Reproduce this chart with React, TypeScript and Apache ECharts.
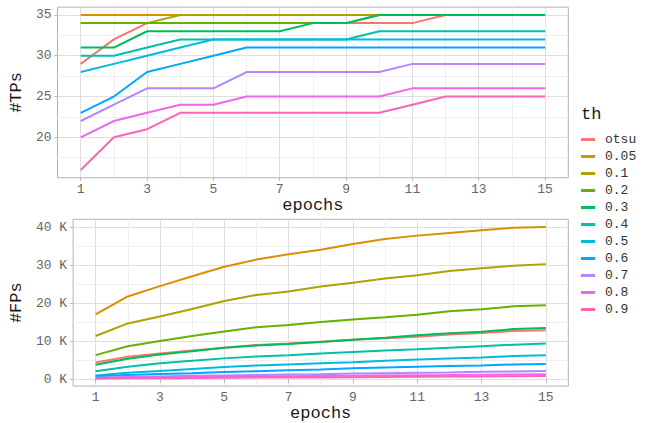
import React, { useEffect, useRef } from 'react';
import * as echarts from 'echarts';

const epochs = [1, 2, 3, 4, 5, 6, 7, 8, 9, 10, 11, 12, 13, 14, 15];
const thresholds = ['otsu', '0.05', '0.1', '0.2', '0.3', '0.4', '0.5', '0.6', '0.7', '0.8', '0.9'];
const palette = ['#F8766D', '#DB8E00', '#AEA200', '#64B200', '#00BD5C', '#00C1A7', '#00BADE', '#00A6FF', '#B385FF', '#EF67EB', '#FF63B6'];

// True positives per epoch
const tpOtsu = [29, 32, 34, 34, 34, 34, 34, 34, 34, 34, 34, 35, 35, 35, 35];
const tp005 = [35, 35, 35, 35, 35, 35, 35, 35, 35, 35, 35, 35, 35, 35, 35];
const tp01 = [34, 34, 34, 35, 35, 35, 35, 35, 35, 35, 35, 35, 35, 35, 35];
const tp02 = [34, 34, 34, 34, 34, 34, 34, 34, 34, 35, 35, 35, 35, 35, 35];
const tp03 = [31, 31, 33, 33, 33, 33, 33, 34, 34, 35, 35, 35, 35, 35, 35];
const tp04 = [30, 30, 31, 32, 32, 32, 32, 32, 32, 33, 33, 33, 33, 33, 33];
const tp05 = [28, 29, 30, 31, 32, 32, 32, 32, 32, 32, 32, 32, 32, 32, 32];
const tp06 = [23, 25, 28, 29, 30, 31, 31, 31, 31, 31, 31, 31, 31, 31, 31];
const tp07 = [22, 24, 26, 26, 26, 28, 28, 28, 28, 28, 29, 29, 29, 29, 29];
const tp08 = [20, 22, 23, 24, 24, 25, 25, 25, 25, 25, 26, 26, 26, 26, 26];
const tp09 = [16, 20, 21, 23, 23, 23, 23, 23, 23, 23, 24, 25, 25, 25, 25];

// False positives per epoch
const fpOtsu = [4400, 5900, 6800, 7600, 8300, 9000, 9400, 9900, 10400, 10800, 11200, 11800, 12200, 12700, 12900];
const fp005 = [17100, 21800, 24500, 27100, 29600, 31500, 32900, 34100, 35600, 36900, 37800, 38500, 39200, 39900, 40100];
const fp01 = [11400, 14700, 16500, 18500, 20600, 22200, 23100, 24400, 25400, 26500, 27400, 28500, 29200, 29900, 30300];
const fp02 = [6350, 8700, 10100, 11400, 12600, 13700, 14300, 15100, 15700, 16300, 17000, 17900, 18400, 19200, 19500];
const fp03 = [3800, 5400, 6500, 7400, 8300, 8900, 9300, 9800, 10400, 10900, 11600, 12100, 12500, 13200, 13500];
const fp04 = [2100, 3300, 4200, 4900, 5500, 6000, 6350, 6800, 7200, 7600, 7900, 8300, 8700, 9100, 9400];
const fp05 = [1000, 1700, 2200, 2700, 3200, 3600, 3900, 4200, 4500, 4900, 5200, 5500, 5750, 6100, 6300];
const fp06 = [800, 1100, 1400, 1600, 1900, 2100, 2400, 2600, 2900, 3100, 3300, 3500, 3600, 3900, 4000];
const fp07 = [400, 600, 750, 900, 1000, 1100, 1250, 1350, 1500, 1600, 1700, 1800, 1950, 2050, 2200];
const fp08 = [300, 400, 500, 600, 650, 700, 800, 850, 900, 1000, 1050, 1100, 1200, 1250, 1350];
const fp09 = [200, 250, 300, 350, 400, 450, 500, 500, 550, 600, 650, 700, 750, 800, 850];

const tpSeries = [tpOtsu, tp005, tp01, tp02, tp03, tp04, tp05, tp06, tp07, tp08, tp09];
const fpSeries = [fpOtsu, fp005, fp01, fp02, fp03, fp04, fp05, fp06, fp07, fp08, fp09];

const xBreaks = [1, 3, 5, 7, 9, 11, 13, 15];
const xMinorBreaks = [2, 4, 6, 8, 10, 12, 14];
const tpBreaks = [20, 25, 30, 35];
const tpMinorBreaks = [17.5, 22.5, 27.5, 32.5];
const fpBreaks = [0, 10000, 20000, 30000, 40000];
const fpMinorBreaks = [5000, 15000, 25000, 35000];

const FONT = "'Liberation Mono', 'DejaVu Sans Mono', monospace";

function expandRange(vals: number[]) {
  const lo = Math.min(...vals);
  const hi = Math.max(...vals);
  const pad = (hi - lo) * 0.05;
  return { min: lo - pad, max: hi + pad };
}

export default function App() {
  const ref = useRef<HTMLDivElement>(null);
  useEffect(() => {
    if (!ref.current) return;
    const chart = echarts.init(ref.current, null, { renderer: 'svg' });
    const xr = expandRange(epochs);
    const tpr = expandRange(tpSeries.flat());
    const fpr = expandRange(fpSeries.flat());

    const majorLine = { show: true, lineStyle: { color: '#DEDEDE', width: 1 } };
    const minorLine = { show: true, lineStyle: { color: '#EFEFEF', width: 1 } };
    const tickStyle = { show: true, length: 3, lineStyle: { color: '#B3B3B3', width: 1 } };
    const labelStyle = { color: '#666666', fontSize: 13, fontFamily: FONT };
    const nameStyle = { color: '#1A1A1A', fontSize: 17, fontFamily: FONT };

    const majorX = (grid: number) => ({
      type: 'value', gridIndex: grid, min: xr.min, max: xr.max, position: 'bottom',
      name: 'epochs', nameLocation: 'middle', nameGap: 15, nameTextStyle: nameStyle,
      axisLine: { show: false },
      axisTick: { ...tickStyle, customValues: xBreaks },
      axisLabel: { ...labelStyle, margin: 5, customValues: xBreaks },
      splitLine: majorLine,
    });
    const minorX = (grid: number) => ({
      type: 'value', gridIndex: grid, min: xr.min, max: xr.max, position: 'bottom',
      axisLine: { show: false },
      axisTick: { show: false, customValues: xMinorBreaks },
      axisLabel: { show: false, customValues: xMinorBreaks },
      splitLine: minorLine,
    });

    const option: any = {
      animation: false,
      backgroundColor: '#FFFFFF',
      textStyle: { fontFamily: FONT },
      title: {
        text: 'th', left: 581, top: 106, padding: 0,
        textStyle: { fontSize: 17, fontWeight: 'normal', color: '#1A1A1A', fontFamily: FONT },
      },
      legend: {
        orient: 'vertical', left: 581, top: 131, padding: 0, itemGap: 0,
        itemWidth: 14, itemHeight: 3, icon: 'rect',
        data: thresholds,
        textStyle: { fontSize: 13, color: '#333333', fontFamily: FONT, lineHeight: 17, padding: [0, 0, 0, 5] },
      },
      grid: [
        { left: 51.7, right: 87.7, top: 7.2, height: 170.5, show: true, borderColor: '#B3B3B3', borderWidth: 1, backgroundColor: '#FFFFFF' },
        { left: 67.7, right: 87.7, top: 219.3, height: 169.7, show: true, borderColor: '#B3B3B3', borderWidth: 1, backgroundColor: '#FFFFFF' },
      ],
      xAxis: [majorX(0), minorX(0), majorX(1), minorX(1)],
      yAxis: [
        {
          type: 'value', gridIndex: 0, min: tpr.min, max: tpr.max, position: 'left',
          name: '#TPs', nameLocation: 'middle', nameGap: 22.5, nameRotate: 90, nameTextStyle: nameStyle,
          axisLine: { show: false },
          axisTick: { ...tickStyle, customValues: tpBreaks },
          axisLabel: { ...labelStyle, margin: 6, customValues: tpBreaks },
          splitLine: majorLine,
        },
        {
          type: 'value', gridIndex: 0, min: tpr.min, max: tpr.max, position: 'left',
          axisLine: { show: false },
          axisTick: { show: false, customValues: tpMinorBreaks },
          axisLabel: { show: false, customValues: tpMinorBreaks },
          splitLine: minorLine,
        },
        {
          type: 'value', gridIndex: 1, min: fpr.min, max: fpr.max, position: 'left',
          name: '#FPs', nameLocation: 'middle', nameGap: 39, nameRotate: 90, nameTextStyle: nameStyle,
          axisLine: { show: false },
          axisTick: { ...tickStyle, customValues: fpBreaks },
          axisLabel: { ...labelStyle, margin: 6, customValues: fpBreaks, formatter: (v: number) => `${Math.round(v / 1000)} K` },
          splitLine: majorLine,
        },
        {
          type: 'value', gridIndex: 1, min: fpr.min, max: fpr.max, position: 'left',
          axisLine: { show: false },
          axisTick: { show: false, customValues: fpMinorBreaks },
          axisLabel: { show: false, customValues: fpMinorBreaks },
          splitLine: minorLine,
        },
      ],
      series: [
        ...tpSeries.map((vals, i) => ({
          type: 'line', name: thresholds[i], xAxisIndex: 0, yAxisIndex: 0,
          data: epochs.map((e, j) => [e, vals[j]]),
          symbol: 'none', color: palette[i],
          lineStyle: { width: 2, color: palette[i] },
        })),
        ...fpSeries.map((vals, i) => ({
          type: 'line', name: thresholds[i], xAxisIndex: 2, yAxisIndex: 2,
          data: epochs.map((e, j) => [e, vals[j]]),
          symbol: 'none', color: palette[i],
          lineStyle: { width: 2, color: palette[i] },
        })),
      ],
    };
    chart.setOption(option);
    return () => chart.dispose();
  }, []);
  return <div ref={ref} style={{ position: 'fixed', left: 0, top: 0, width: 656, height: 423 }} />;
}
